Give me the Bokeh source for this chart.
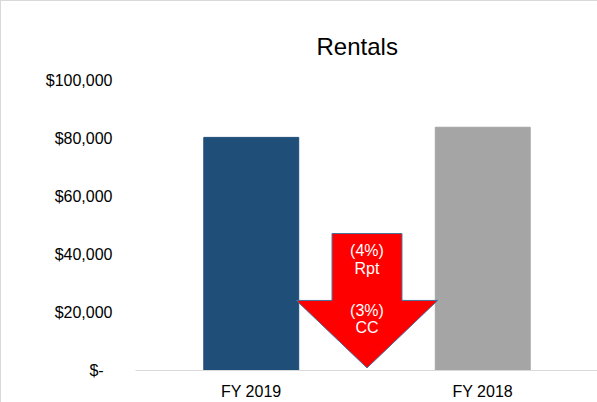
from bokeh.plotting import figure
from bokeh.models import FactorRange, Range1d, FixedTicker, ColumnDataSource
from bokeh.embed import file_html
from bokeh.resources import INLINE
from bokeh.core.properties import value

# ---- data ----
categories = ["FY 2019", "FY 2018"]
rentals = [80500, 84000]
bar_colors = ["#1F4E79", "#A5A5A5"]
y_ticks = [0, 20000, 40000, 60000, 80000, 100000]
y_tick_labels = ["$-\u00a0\u00a0", "$20,000", "$40,000", "$60,000", "$80,000", "$100,000"]
change_labels = ["(4%)\nRpt", "(3%)\nCC"]
change_label_y = [38200, 17800]

# arrow geometry (data units, centred between the two categories)
arrow_cx = len(categories) / 2
arrow_shaft_half = 0.151
arrow_head_half = 0.305
arrow_top = 47300
arrow_head_top = 24200
arrow_tip = 900

FONT = "Liberation Sans"

p = figure(
    width=597, height=402,
    x_range=FactorRange(factors=categories, range_padding=0),
    y_range=Range1d(0, 107400),
    output_backend="svg", toolbar_location=None,
    min_border_left=134, min_border_right=0, min_border_bottom=33, min_border_top=58,
    title="Rentals",
)
p.title.text_font = FONT
p.title.text_font_size = "24px"
p.title.text_font_style = "normal"
p.title.text_color = "#000000"
p.title.align = "left"
p.title.offset = 181
p.title.standoff = 0

src = ColumnDataSource(dict(x=categories, top=rentals, color=bar_colors))
p.vbar(x="x", top="top", width=0.41, color="color", source=src)

ax = [arrow_cx - arrow_shaft_half, arrow_cx + arrow_shaft_half, arrow_cx + arrow_shaft_half,
      arrow_cx + arrow_head_half, arrow_cx, arrow_cx - arrow_head_half, arrow_cx - arrow_shaft_half]
ay = [arrow_top, arrow_top, arrow_head_top, arrow_head_top, arrow_tip, arrow_head_top, arrow_head_top]
p.patch(ax, ay, fill_color="#FF0000", line_color="#41719C", line_width=1)

p.text(x=[arrow_cx] * len(change_labels), y=change_label_y, text=change_labels,
       text_font=value(FONT), text_font_size="16px", text_color="white",
       text_align="center", text_baseline="middle", text_line_height=1.05)

p.xgrid.grid_line_color = None
p.ygrid.grid_line_color = None
p.outline_line_color = None

p.yaxis.ticker = FixedTicker(ticks=y_ticks)
p.yaxis.major_label_overrides = {t: l for t, l in zip(y_ticks, y_tick_labels)}
p.yaxis.axis_line_color = None
p.yaxis.major_tick_line_color = None
p.yaxis.minor_tick_line_color = None
p.yaxis.major_tick_out = 0
p.yaxis.major_label_standoff = 23
p.yaxis.major_label_text_font = FONT
p.yaxis.major_label_text_font_size = "16px"
p.yaxis.major_label_text_color = "#000000"

p.xaxis.axis_line_color = "#D9D9D9"
p.xaxis.axis_line_width = 1
p.xaxis.major_tick_line_color = None
p.xaxis.major_tick_out = 0
p.xaxis.major_label_standoff = 12
p.xaxis.major_label_text_font = FONT
p.xaxis.major_label_text_font_size = "16px"
p.xaxis.major_label_text_color = "#000000"

p.styles = {"border-left": "1px solid #D9D9D9", "border-top": "1px solid #D9D9D9"}

open("out.html", "w").write(file_html(p, INLINE))
